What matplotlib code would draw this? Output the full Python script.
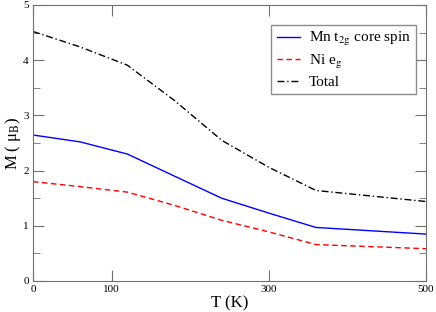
import matplotlib
matplotlib.use("Agg")
import matplotlib.pyplot as plt
from matplotlib.ticker import MultipleLocator

plt.rcParams["font.family"] = ["Liberation Serif", "DejaVu Serif"]
plt.rcParams["mathtext.fontset"] = "stix"

T = [0, 60, 120, 180, 240, 300, 360, 500]
mn_t2g = [2.645, 2.52, 2.30, 1.90, 1.50, 1.23, 0.97, 0.85]
ni_eg = [1.80, 1.71, 1.61, 1.37, 1.10, 0.89, 0.66, 0.585]
total = [4.52, 4.24, 3.91, 3.27, 2.55, 2.06, 1.64, 1.44]

xticks = [0, 100, 300, 500]

fig = plt.figure(figsize=(4.36, 3.12), dpi=100)
ax = fig.add_axes([33 / 436, 31 / 312, 393 / 436, 276 / 312])

ax.plot(T, mn_t2g, color="blue", lw=1.0, ls="-", label=r"Mn t$_{\rm 2g}$ core spin")
ax.plot(T, ni_eg, color="red", lw=1.0, ls=(0, (4, 2.5)), label=r"Ni e$_{\rm g}$")
ax.plot(T, total, color="black", lw=1.0, ls=(0, (5, 2, 1, 2)), label="Total")

ax.set_xlim(0, 500)
ax.set_ylim(0, 5)
ax.set_xticks(xticks)
ax.yaxis.set_major_locator(MultipleLocator(1))
ax.yaxis.set_minor_locator(MultipleLocator(0.5))
ax.tick_params(which="both", direction="in", top=True, right=True,
               labelsize=8, color="#707070", pad=3)
ax.tick_params(which="major", length=8)
ax.tick_params(which="minor", length=5)
for s in ax.spines.values():
    s.set_color("#707070")

ax.set_xlabel("T (K)", fontsize=12, labelpad=1)
ax.set_ylabel("M ( μ$_{\\rm B}$)", fontsize=12, labelpad=0)

leg = ax.legend(loc="upper right", bbox_to_anchor=(0.975, 0.928), fontsize=11,
                frameon=True, fancybox=False, edgecolor="#707070",
                handlelength=1.5, handletextpad=0.6, borderpad=0.35,
                labelspacing=0.3, borderaxespad=0)
leg.get_frame().set_linewidth(1.0)

fig.savefig("out.png", dpi=100)
